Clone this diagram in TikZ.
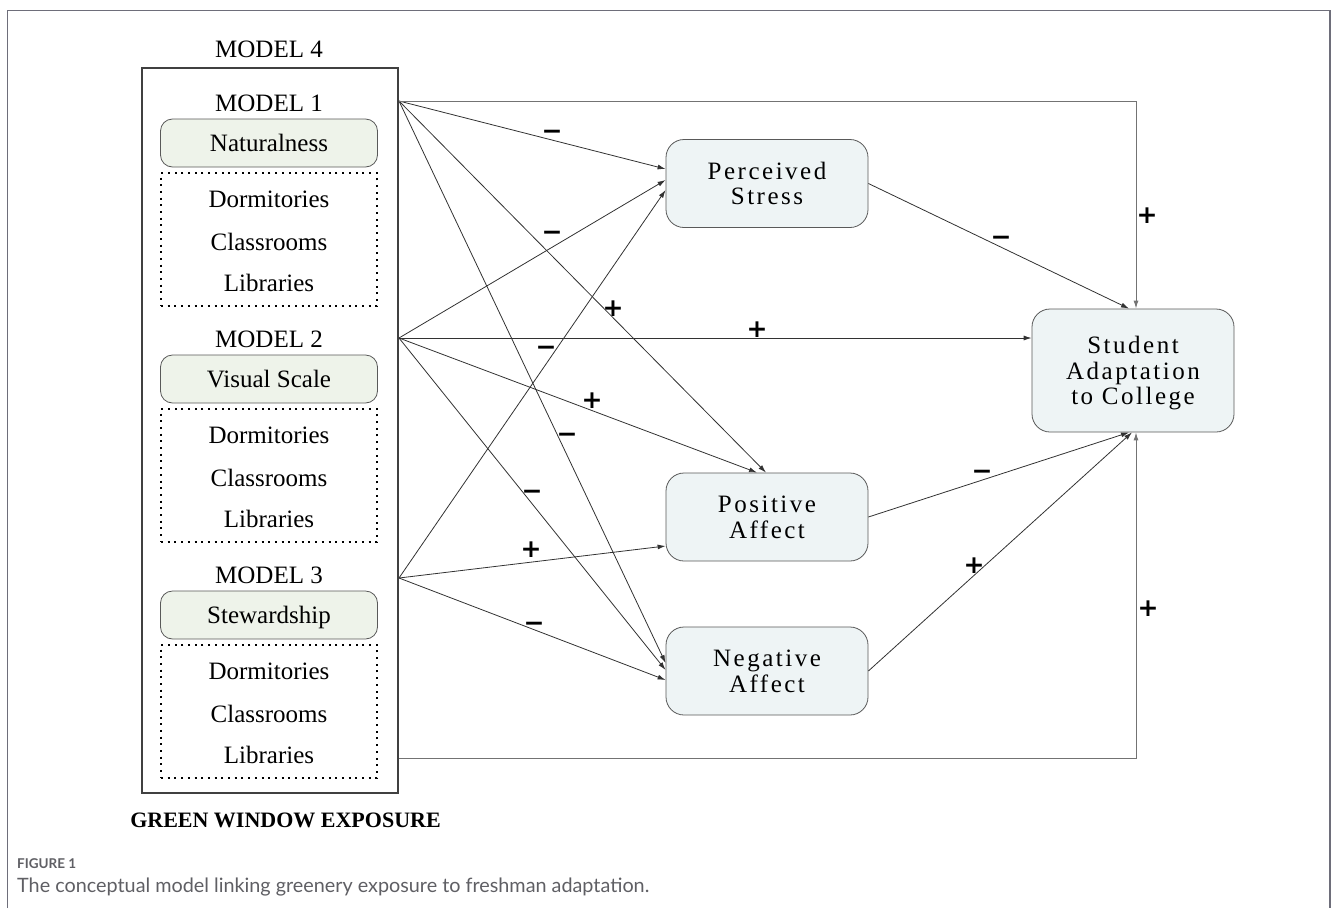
\documentclass[tikz,border=0pt]{standalone}
\usepackage{fontspec}
\setmainfont{Liberation Serif}
\newfontfamily\signfont{DejaVu Sans}
\newfontfamily\capfont{Lato}
\usetikzlibrary{arrows.meta,calc}
\definecolor{greenfill}{RGB}{238,243,234}
\definecolor{bluefill}{RGB}{238,244,245}
\definecolor{framegray}{RGB}{110,110,122}
\definecolor{linegray}{RGB}{50,50,50}
\definecolor{capgray}{RGB}{95,95,100}
\begin{document}
\begin{tikzpicture}[x=1pt,y=-1pt,
  modeltxt/.style={font=\fontsize{25}{30}\selectfont, inner sep=0},
  factor/.style={draw=black!65, line width=0.8pt, fill=greenfill, rounded corners=12pt,
    minimum width=217pt, minimum height=48pt, inner sep=0,
    text height=17.5pt, text depth=0pt, font=\fontsize{25}{30}\selectfont},
  dotbox/.style={draw=black, line width=2pt, dash pattern=on 2pt off 4.7pt,
    minimum width=216pt, minimum height=133pt, inner sep=0},
  construct/.style={draw=black!65, line width=0.8pt, fill=bluefill, rounded corners=18pt,
    minimum width=202pt, minimum height=88pt, inner sep=0, align=center,
    text depth=0pt,
    font=\fontsize{25}{25.5}\selectfont\addfontfeature{LetterSpace=10}},
  arr/.style={draw=linegray, line width=0.8pt, -{Latex[length=8pt,width=5pt]}},
  longarr/.style={draw=black!55, line width=1pt, -{Latex[length=8pt,width=5pt]}},
  sign/.style={font=\signfont\bfseries\fontsize{25}{25}\selectfont, inner sep=0,
    text height=17.9pt, text depth=0pt}
]
\useasboundingbox (0,0) rectangle (1331,908);
\draw[framegray, line width=1.5pt] (7.5,908) -- (7.5,10.5) -- (1330,10.5) -- (1330,908);

% model container
\node[modeltxt, anchor=base] (title4) at (269,57.7) {MODEL 4};
\node[draw=black!75, line width=2pt, minimum width=256pt, minimum height=725pt,
  anchor=north west, inner sep=0] (model4) at (141,67) {};

\foreach \k/\fac/\b in {1/Naturalness/111,2/Visual Scale/347,3/Stewardship/583}{
  \node[modeltxt, anchor=base] (title\k) at (269,\b) {MODEL \k};
  \node[factor] (factor\k) at (269,\b+32) {\fac};
  \node[dotbox] (dots\k) at (269,\b+128.5) {};
  \node[modeltxt, anchor=base] (dorm\k) at (269,\b+96) {Dormitories};
  \node[modeltxt, anchor=base] (class\k) at (269,\b+139.5) {Classrooms};
  \node[modeltxt, anchor=base] (lib\k) at (269,\b+180.5) {Libraries};
}

\coordinate (s1) at ([yshift=-34pt]model4.north east);
\coordinate (s2) at ([yshift=-271pt]model4.north east);
\coordinate (s3) at ([yshift=-511pt]model4.north east);
\coordinate (s4) at ([yshift=-691pt]model4.north east);

% constructs
\node[construct] (ps) at (767,183.5) {Perceived\\Stress};
\node[construct] (pa) at (767,517) {Positive\\Affect};
\node[construct] (na) at (767,671) {Negative\\Affect};
\node[construct, minimum height=123pt] (sa) at (1133,370.5) {Student\\Adaptation\\to College};

% connectors
\draw[arr] (s1) -- ([yshift=14.5pt]ps.west);
\draw[arr] (s2) -- ([yshift=3.5pt]ps.west);
\draw[arr] (s3) -- ([yshift=-6.5pt]ps.west);
\draw[arr] (s1) -- ([xshift=-1pt]pa.north);
\draw[arr] (s2) -- ([xshift=-10pt]pa.north);
\draw[arr] (s3) -- ([yshift=-29pt]pa.west);
\draw[arr] (s1) -- ([yshift=8pt]na.west);
\draw[arr] (s2) -- ([yshift=1pt]na.west);
\draw[arr] (s3) -- ([yshift=-9pt]na.west);
\draw[arr] (s2) -- (sa.west |- s2);
\draw[arr] (ps.east) -- ([xshift=-4pt]sa.north);
\draw[arr] (pa.east) -- ([xshift=-4pt]sa.south);
\draw[arr] (na.east) -- ([xshift=-1pt]sa.south);
\draw[longarr] (s1) -| ([xshift=3pt]sa.north);
\draw[longarr] (s4) -| ([xshift=3pt]sa.south);

% signs
\node[sign] (l1) at (552,131) {−};
\node[sign] (l2) at (552,232) {−};
\node[sign] (l3) at (613,308) {+};
\node[sign] (l4) at (546,347) {−};
\node[sign] (l5) at (757,329) {+};
\node[sign] (l6) at (592,400) {+};
\node[sign] (l7) at (567,434) {−};
\node[sign] (l8) at (532,491) {−};
\node[sign] (l9) at (531,549) {+};
\node[sign] (l10) at (534,623) {−};
\node[sign] (l11) at (1001,237) {−};
\node[sign] (l12) at (1147,215) {+};
\node[sign] (l13) at (982,471) {−};
\node[sign] (l14) at (974,565) {+};
\node[sign] (l15) at (1148,608) {+};

% titles and caption
\node[font=\bfseries\fontsize{22}{26}\selectfont, inner sep=0] (gwe) at (285.5,820) {GREEN WINDOW EXPOSURE};
\node[anchor=base west, font=\capfont\bfseries\fontsize{13.5}{16}\selectfont, text=capgray, inner sep=0] (figlabel) at (17,868) {FIGURE 1};
\node[anchor=base west, font=\capfont\fontsize{19.8}{22}\selectfont, text=capgray, inner sep=0] (caption) at (17,892) {The conceptual model linking greenery exposure to freshman adaptation.};
\end{tikzpicture}
\end{document}
